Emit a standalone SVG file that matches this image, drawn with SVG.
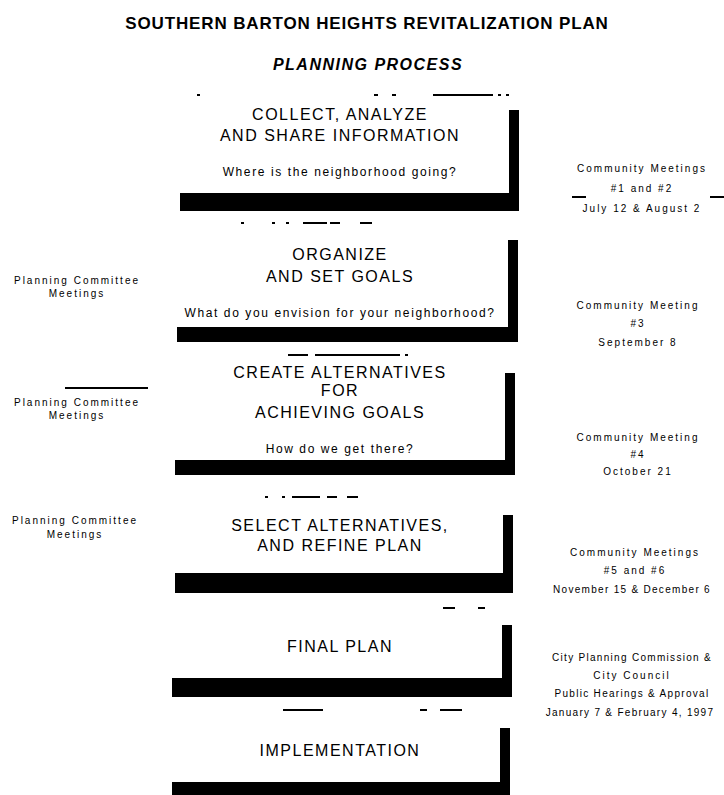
<svg xmlns="http://www.w3.org/2000/svg" width="724" height="795" viewBox="0 0 724 795">
<style>
.bg{fill:#fff}
.bar{fill:#000}
.rem{fill:#000}
text{font-family:"Liberation Sans",Arial,sans-serif;fill:#000;text-anchor:middle}
.title{font-size:17px;font-weight:bold;letter-spacing:0.85px}
.sub{font-size:16px;font-weight:bold;font-style:italic;letter-spacing:1.5px}
.t{font-size:16px;letter-spacing:1.5px}
.q{font-size:12px;letter-spacing:1.6px}
.lbl{font-size:10px;letter-spacing:2px}
.tight{letter-spacing:1.3px}
</style>
<rect class="bg" x="0" y="0" width="724" height="795"/>
<g id="header">
<text class="title" x="367" y="29">SOUTHERN BARTON HEIGHTS REVITALIZATION PLAN</text>
<text class="sub" x="368" y="70">PLANNING PROCESS</text>
</g>
<g id="connectors"></g>
<g id="box1">
<rect class="rem" x="197" y="94" width="3" height="2"/>
<rect class="rem" x="374" y="94" width="4" height="2"/>
<rect class="rem" x="392" y="94" width="4" height="2"/>
<rect class="rem" x="433" y="94" width="60" height="2"/>
<rect class="rem" x="498" y="94" width="3" height="2"/>
<rect class="rem" x="506" y="94" width="3" height="2"/>
<text class="t" x="340" y="120">COLLECT, ANALYZE</text>
<text class="t" x="340" y="141">AND SHARE INFORMATION</text>
<text class="q" x="340" y="176">Where is the neighborhood going?</text>
<rect class="bar" x="509" y="110" width="10" height="101"/>
<rect class="bar" x="180" y="193" width="339" height="18"/>
</g>
<g id="box2">
<rect class="rem" x="241" y="222" width="3" height="2"/>
<rect class="rem" x="272" y="222" width="3" height="2"/>
<rect class="rem" x="286" y="222" width="3" height="2"/>
<rect class="rem" x="303" y="222" width="24" height="2"/>
<rect class="rem" x="330" y="222" width="10" height="2"/>
<rect class="rem" x="360" y="222" width="12" height="2"/>
<text class="t" x="340" y="260">ORGANIZE</text>
<text class="t" x="340" y="282">AND SET GOALS</text>
<text class="q" x="340" y="317">What do you envision for your neighborhood?</text>
<rect class="bar" x="508" y="240" width="10" height="102"/>
<rect class="bar" x="177" y="327" width="341" height="15"/>
</g>
<g id="box3">
<rect class="rem" x="288" y="354" width="20" height="2"/>
<rect class="rem" x="315" y="354" width="85" height="2"/>
<rect class="rem" x="405" y="354" width="3" height="2"/>
<text class="t" x="340" y="378">CREATE ALTERNATIVES</text>
<text class="t" x="340" y="396">FOR</text>
<text class="t" x="340" y="418">ACHIEVING GOALS</text>
<text class="q" x="340" y="453">How do we get there?</text>
<rect class="bar" x="505" y="373" width="10" height="102"/>
<rect class="bar" x="175" y="460" width="340" height="15"/>
</g>
<g id="box4">
<rect class="rem" x="265" y="496" width="3" height="2"/>
<rect class="rem" x="282" y="496" width="3" height="2"/>
<rect class="rem" x="292" y="496" width="28" height="2"/>
<rect class="rem" x="327" y="496" width="10" height="2"/>
<rect class="rem" x="347" y="496" width="11" height="2"/>
<text class="t" x="340" y="531">SELECT ALTERNATIVES,</text>
<text class="t" x="340" y="551">AND REFINE PLAN</text>
<rect class="bar" x="503" y="515" width="10" height="78"/>
<rect class="bar" x="175" y="573" width="338" height="20"/>
</g>
<g id="box5">
<rect class="rem" x="443" y="607" width="12" height="2"/>
<rect class="rem" x="478" y="607" width="7" height="2"/>
<text class="t" x="340" y="652">FINAL PLAN</text>
<rect class="bar" x="502" y="625" width="10" height="72"/>
<rect class="bar" x="172" y="678" width="340" height="19"/>
</g>
<g id="box6">
<rect class="rem" x="283" y="709" width="40" height="2"/>
<rect class="rem" x="420" y="709" width="7" height="2"/>
<rect class="rem" x="440" y="709" width="22" height="2"/>
<text class="t" x="340" y="756">IMPLEMENTATION</text>
<rect class="bar" x="500" y="728" width="10" height="67"/>
<rect class="bar" x="172" y="782" width="338" height="13"/>
</g>
<g id="label-r1">
<text class="lbl" x="642" y="172">Community Meetings</text>
<text class="lbl" x="642" y="192">#1 and #2</text>
<text class="lbl" x="642" y="212">July 12 &amp; August 2</text>
<rect class="rem" x="710" y="196" width="14" height="2"/>
<rect class="rem" x="572" y="196" width="14" height="2"/>
</g>
<g id="label-r2">
<text class="lbl" x="638" y="309">Community Meeting</text>
<text class="lbl" x="638" y="327">#3</text>
<text class="lbl" x="638" y="346">September 8</text>
</g>
<g id="label-r3">
<text class="lbl" x="638" y="441">Community Meeting</text>
<text class="lbl" x="638" y="458">#4</text>
<text class="lbl" x="638" y="475">October 21</text>
</g>
<g id="label-r4">
<text class="lbl" x="635" y="556">Community Meetings</text>
<text class="lbl" x="635" y="574">#5 and #6</text>
<text class="lbl tight" x="632" y="593">November 15 &amp; December 6</text>
</g>
<g id="label-r5">
<text class="lbl tight" x="632" y="661">City Planning Commission &amp;</text>
<text class="lbl" x="632" y="679">City Council</text>
<text class="lbl tight" x="632" y="697">Public Hearings &amp; Approval</text>
<text class="lbl tight" x="630" y="716">January 7 &amp; February 4, 1997</text>
</g>
<g id="label-l1">
<text class="lbl" x="77" y="284">Planning Committee</text>
<text class="lbl" x="77" y="297">Meetings</text>
</g>
<g id="label-l2">
<rect class="rem" x="65" y="387" width="83" height="2"/>
<text class="lbl" x="77" y="406">Planning Committee</text>
<text class="lbl" x="77" y="419">Meetings</text>
</g>
<g id="label-l3">
<text class="lbl" x="75" y="524">Planning Committee</text>
<text class="lbl" x="75" y="538">Meetings</text>
</g>
</svg>
